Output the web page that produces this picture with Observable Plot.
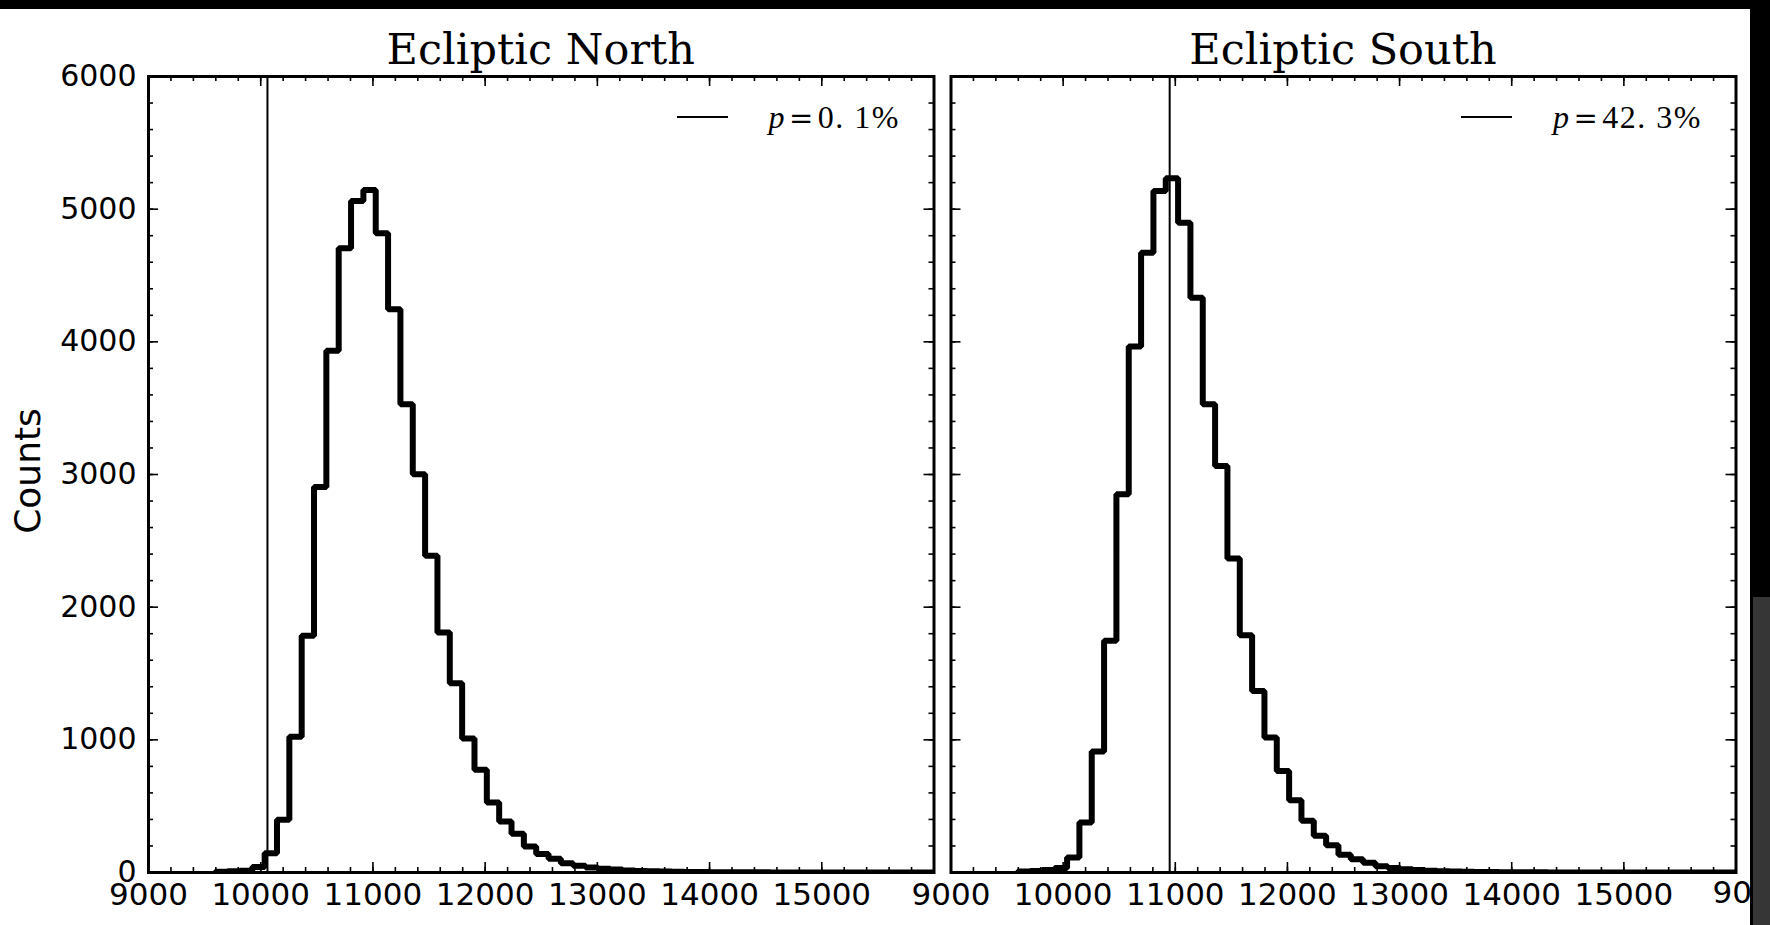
<!DOCTYPE html>
<html>
<head>
<meta charset="utf-8">
<script src="https://cdn.jsdelivr.net/npm/d3@7"></script>
<script src="https://cdn.jsdelivr.net/npm/@observablehq/plot@0.6"></script>
<style>
  html, body { margin: 0; padding: 0; background: #fff; }
  body { width: 1770px; height: 925px; position: relative; overflow: hidden; }
  .panel { position: absolute; top: 0; }
  .title { position: absolute; top: 28px; font-family: "DejaVu Serif"; font-size: 43px; line-height: 1; white-space: nowrap; transform: translateX(-50%); color: #000; }
  .ylabel { position: absolute; left: 28px; top: 471px; font-family: "DejaVu Sans"; font-size: 36px; line-height: 1; white-space: nowrap; transform: translate(-50%, -50%) rotate(-90deg); color: #000; }
  .legend { position: absolute; top: 101px; display: flex; align-items: center; white-space: nowrap; color: #000; }
  .leg-line { height: 0; border-top: 2px solid #000; width: 51px; margin-right: 41px; }
  .leg-text { font-family: "Liberation Serif", "DejaVu Serif"; font-size: 32px; line-height: 1; letter-spacing: 1.5px; }
  .leg-text i { font-style: italic; }
  .leg-text .eq { font-family: "DejaVu Serif"; font-size: 29px; margin: 0 3px; }
  .frag { position: absolute; top: 877px; font-family: "DejaVu Sans"; font-size: 31px; line-height: 1; transform: translateX(-50%); color: #000; }
  .bar { position: absolute; }
</style>
</head>
<body>
<div id="root"></div>
<script>
// ---- Data ----
const panelTitles = ["Ecliptic North", "Ecliptic South"];
const pValueLabels = ["0. 1%", "42. 3%"];
const observedValues = [10060, 10950];

const binEdges = [9595, 9705, 9815, 9925, 10035, 10145, 10255, 10365, 10475, 10585,
  10695, 10805, 10915, 11025, 11135, 11245, 11355, 11465, 11575, 11685,
  11795, 11905, 12015, 12125, 12235, 12345, 12455, 12565, 12675, 12785,
  12895, 13005, 13115, 13225, 13335, 13445, 13555, 13665, 13775, 13885,
  13995, 14105, 14215, 14325, 14435, 14545, 14655, 14765, 14875, 14985,
  15095, 15205, 15315, 15425, 15535, 15645, 15755, 15865, 15975, 16085];

const countsNorth = [6, 10, 14, 42, 146, 397, 1023, 1784, 2905, 3932,
  4705, 5062, 5145, 4818, 4246, 3530, 3002, 2387, 1809, 1427,
  1010, 774, 528, 385, 293, 196, 139, 104, 70, 50,
  37, 28, 23, 16, 12, 9, 7, 5, 4, 3,
  2, 2, 1, 1, 1, 0, 0, 0, 0, 0,
  0, 0, 0, 0, 0, 0, 0, 0, 0];

const countsSouth = [8, 12, 18, 33, 113, 377, 912, 1746, 2852, 3964,
  4672, 5137, 5233, 4898, 4333, 3530, 3065, 2366, 1789, 1369,
  1017, 766, 545, 390, 277, 205, 133, 100, 74, 48,
  33, 25, 18, 14, 10, 7, 5, 4, 3, 2,
  2, 1, 1, 0, 0, 0, 0, 0, 0, 0,
  0, 0, 0, 0, 0, 0, 0, 0, 0];

const xMajorTicks = [9000, 10000, 11000, 12000, 13000, 14000, 15000, 16000];
const xTickLabels = [9000, 10000, 11000, 12000, 13000, 14000, 15000];
const xMinorTicks = d3.range(9000, 16001, 200);
const yMajorTicks = [0, 1000, 2000, 3000, 4000, 5000, 6000];
const yMinorTicks = d3.range(0, 6001, 200);

// ---- Layout ----
const H = 925, mTop = 76, mBottom = 53;
const frameH = H - mTop - mBottom;
const panels = [
  {left: 0, width: 941, mL: 148, mR: 7.5, counts: countsNorth, showY: true},
  {left: 941, width: 829, mL: 9.5, mR: 34.5, counts: countsSouth, showY: false}
];

const root = document.getElementById("root");

function stepPoints(counts) {
  const pts = [{x: binEdges[0], y: 0}];
  counts.forEach((c, i) => pts.push({x: binEdges[i], y: c}));
  pts.push({x: binEdges[counts.length], y: counts[counts.length - 1]});
  pts.push({x: binEdges[counts.length], y: 0});
  return pts;
}

// tick label fragment of the next (cropped) panel, under the right border
const frag = document.createElement("div");
frag.className = "frag";
frag.style.left = "1752px";
frag.textContent = "9000";
root.appendChild(frag);

panels.forEach((p, idx) => {
  const frameW = p.width - p.mL - p.mR;
  const tickStyle = {stroke: "#000", strokeWidth: 1.6};
  const marks = [
    Plot.tickX(xMinorTicks, {x: d => d, insetTop: frameH - 5, ...tickStyle}),
    Plot.tickX(xMinorTicks, {x: d => d, insetBottom: frameH - 5, ...tickStyle}),
    Plot.tickX(xMajorTicks, {x: d => d, insetTop: frameH - 10, ...tickStyle}),
    Plot.tickX(xMajorTicks, {x: d => d, insetBottom: frameH - 10, ...tickStyle}),
    Plot.tickY(yMinorTicks, {y: d => d, insetRight: frameW - 5, ...tickStyle}),
    Plot.tickY(yMinorTicks, {y: d => d, insetLeft: frameW - 5, ...tickStyle}),
    Plot.tickY(yMajorTicks, {y: d => d, insetRight: frameW - 10, ...tickStyle}),
    Plot.tickY(yMajorTicks, {y: d => d, insetLeft: frameW - 10, ...tickStyle}),
    Plot.axisX(xTickLabels, {anchor: "bottom", tickSize: 0, tickPadding: 10, label: null,
      tickFormat: d => String(d), fontSize: 31, fontFamily: "DejaVu Sans", fill: "#000"}),
    Plot.ruleX([observedValues[idx]], {stroke: "#000", strokeWidth: 2}),
    Plot.line(stepPoints(p.counts), {x: "x", y: "y", curve: "step-after", stroke: "#000",
      strokeWidth: 6, strokeLinejoin: "miter", strokeLinecap: "butt", clip: true}),
    Plot.frame({stroke: "#000", strokeWidth: 3})
  ];
  if (p.showY) {
    marks.push(Plot.axisY(yMajorTicks, {anchor: "left", tickSize: 0, tickPadding: 12, label: null,
      tickFormat: d => String(d), fontSize: 30, fontFamily: "DejaVu Sans", fill: "#000"}));
  }
  const chart = Plot.plot({
    width: p.width, height: H,
    marginLeft: p.mL, marginRight: p.mR, marginTop: mTop, marginBottom: mBottom,
    x: {domain: [9000, 16000], axis: null},
    y: {domain: [0, 6000], axis: null},
    style: {background: "transparent", overflow: "visible", fontFamily: "DejaVu Sans", fontSize: "30px", color: "#000"},
    marks
  });
  const wrap = document.createElement("div");
  wrap.className = "panel";
  wrap.style.left = p.left + "px";
  wrap.appendChild(chart);
  root.appendChild(wrap);

  const cx = p.left + p.mL + frameW / 2;
  const t = document.createElement("div");
  t.className = "title";
  t.style.left = cx + "px";
  t.textContent = panelTitles[idx];
  root.appendChild(t);

  const frameRight = p.left + p.width - p.mR;
  const lg = document.createElement("div");
  lg.className = "legend";
  lg.style.right = (1770 - frameRight + 33.5) + "px";
  lg.innerHTML = '<div class="leg-line"></div><div class="leg-text"><i>p</i><span class="eq">=</span>' + pValueLabels[idx] + '</div>';
  root.appendChild(lg);
});

const yl = document.createElement("div");
yl.className = "ylabel";
yl.textContent = "Counts";
root.appendChild(yl);

// screenshot borders seen in the reference
[["0px","0px","1770px","9px","#000"],["1750px","0px","20px","925px","#000"],["1753px","597px","17px","328px","#363636"]]
  .forEach(([l,t,w,h,c]) => {
    const b = document.createElement("div");
    b.className = "bar";
    Object.assign(b.style, {left: l, top: t, width: w, height: h, background: c});
    root.appendChild(b);
  });
</script>
</body>
</html>
